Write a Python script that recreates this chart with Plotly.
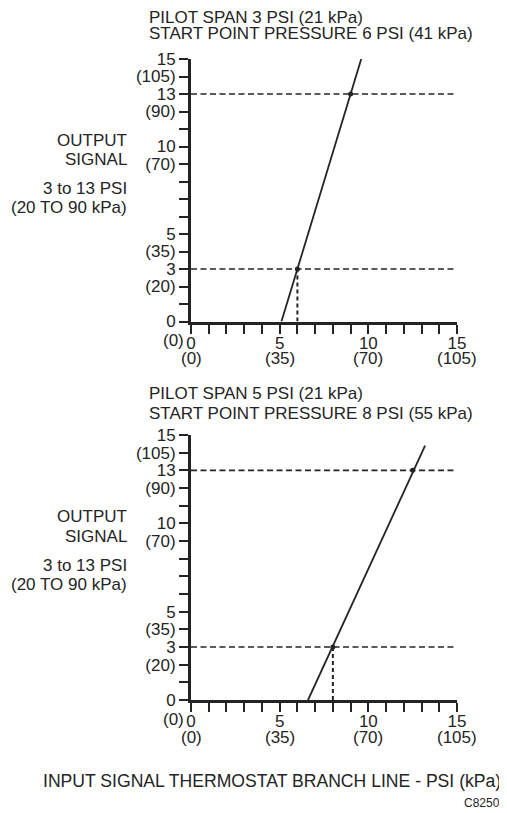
import plotly.graph_objects as go

# page body has an 8px margin; figure is laid out in reference-pixel coordinates minus that offset
OFF = 8
W, H = 507 - OFF, 813 - OFF

# ---------------- data ----------------
y_tick_vals = list(range(0, 16))
y_tick_text = ["0", "", "(20)", "3", "(35)", "5", "", "", "", "(70)", "10", "", "(90)", "13", "(105)", "15"]
x_tick_vals = list(range(0, 16))
x_tick_text = ["0", "", "", "", "", "5", "", "", "", "", "10", "", "", "", "", "15"]
x_kpa_vals = [0, 5, 10, 15]
x_kpa_text = ["(0)", "(35)", "(70)", "(105)"]

top_line_x = [5.1, 9.6]
top_line_y = [0, 15]
top_points_x = [6, 9]
top_points_y = [3, 13]

bot_line_x = [6.6, 13.2]
bot_line_y = [0, 14.4]
bot_points_x = [8, 12.5]
bot_points_y = [3, 13]

limits_y = [3, 13]
limit_x_end = 14.8

top_title = ["PILOT SPAN 3 PSI (21 kPa)", "START POINT PRESSURE 6 PSI (41 kPa)"]
bot_title = ["PILOT SPAN 5 PSI (21 kPa)", "START POINT PRESSURE 8 PSI (55 kPa)"]
ylabel_lines = ["OUTPUT", "SIGNAL", "3 to 13 PSI", "(20 TO 90 kPa)"]
xlabel = "INPUT SIGNAL THERMOSTAT BRANCH LINE - PSI (kPa)"
code_label = "C8250"

# ---------------- style ----------------
FONT = "Liberation Sans, Arial, Helvetica, sans-serif"
INK = "#242424"
FS = 17        # most text
FX = 17.6      # bottom axis caption


def px(x):
    return (x - OFF) / W


def py(y):
    return 1 - (y - OFF) / H


fig = go.Figure()

panels = [
    ("x", "y", top_line_x, top_line_y, top_points_x, top_points_y),
    ("x2", "y2", bot_line_x, bot_line_y, bot_points_x, bot_points_y),
]

for xa, ya, lx, ly, ptx, pty in panels:
    # horizontal dashed limit lines
    for yl in limits_y:
        fig.add_trace(go.Scatter(x=[0, limit_x_end], y=[yl, yl], mode="lines",
                                 line=dict(color=INK, width=1.6, dash="6px,3.5px"),
                                 xaxis=xa, yaxis=ya, showlegend=False, hoverinfo="skip"))
    # vertical dotted drop line at lower intersection
    fig.add_trace(go.Scatter(x=[ptx[0], ptx[0]], y=[0, pty[0]], mode="lines",
                             line=dict(color=INK, width=2, dash="4px,3px"),
                             xaxis=xa, yaxis=ya, showlegend=False, hoverinfo="skip"))
    # characteristic line
    fig.add_trace(go.Scatter(x=lx, y=ly, mode="lines",
                             line=dict(color=INK, width=1.8),
                             xaxis=xa, yaxis=ya, showlegend=False, hoverinfo="skip"))
    # intersection dots
    fig.add_trace(go.Scatter(x=ptx, y=pty, mode="markers",
                             marker=dict(color=INK, size=5),
                             xaxis=xa, yaxis=ya, showlegend=False, hoverinfo="skip"))

xdom = [px(191), px(457)]
top_dom = [py(321.5), py(59)]
bot_dom = [py(700), py(435)]

axis_common = dict(showline=True, linecolor=INK, linewidth=3, showgrid=False, zeroline=False,
                   ticks="outside", tickcolor=INK, tickwidth=1.6, tickmode="array",
                   tickfont=dict(family=FONT, size=FS, color=INK), fixedrange=True)

fig.update_layout(
    width=W, height=H,
    margin=dict(l=0, r=0, t=0, b=0, pad=0, autoexpand=False),
    paper_bgcolor="white", plot_bgcolor="white",
    font=dict(family=FONT, size=FS, color=INK),
    xaxis=dict(domain=xdom, range=[0, 15], anchor="y", tickvals=x_tick_vals, ticktext=x_tick_text,
               ticklen=9, ticklabelstandoff=-5, **axis_common),
    yaxis=dict(domain=top_dom, range=[0, 15], anchor="x", tickvals=y_tick_vals, ticktext=y_tick_text,
               ticklen=9, **axis_common),
    xaxis2=dict(domain=xdom, range=[0, 15], anchor="y2", tickvals=x_tick_vals, ticktext=x_tick_text,
                ticklen=9, ticklabelstandoff=-5, **axis_common),
    yaxis2=dict(domain=bot_dom, range=[0, 15], anchor="x2", tickvals=y_tick_vals, ticktext=y_tick_text,
                ticklen=9, **axis_common),
)

ann = []
# kPa labels under the x tick labels, and "(0)" beside the origin
for xr, base in (("x", 321.5), ("x2", 700)):
    for v, t in zip(x_kpa_vals, x_kpa_text):
        ann.append(dict(x=v, xref=xr, y=py(base + 37), yref="paper", text=t, showarrow=False,
                        xanchor="center", yanchor="middle", font=dict(size=FS)))
    ann.append(dict(x=px(173), xref="paper", y=py(base + 19), yref="paper", text="(0)", showarrow=False,
                    xanchor="center", yanchor="middle", font=dict(size=FS)))

# panel titles
for lines, ys in ((top_title, (17.5, 34)), (bot_title, (394, 413.5))):
    for t, yy in zip(lines, ys):
        ann.append(dict(x=px(147), xref="paper", y=py(yy), yref="paper", text=t, showarrow=False,
                        xanchor="left", yanchor="middle", font=dict(size=FS)))

# y-axis side labels
for ys in ((140, 159.5, 188.5, 207), (516.5, 536, 565, 584.5)):
    for t, yy in zip(ylabel_lines, ys):
        ann.append(dict(x=px(129), xref="paper", y=py(yy), yref="paper", text=t, showarrow=False,
                        xanchor="right", yanchor="middle", font=dict(size=FS)))

ann.append(dict(x=px(503), xref="paper", y=py(781), yref="paper", text=xlabel, showarrow=False,
                xanchor="right", yanchor="middle", font=dict(size=FX)))
ann.append(dict(x=px(502), xref="paper", y=py(803), yref="paper", text=code_label, showarrow=False,
                xanchor="right", yanchor="middle", font=dict(size=12)))

fig.update_layout(annotations=ann)

fig.write_html("out.html")
